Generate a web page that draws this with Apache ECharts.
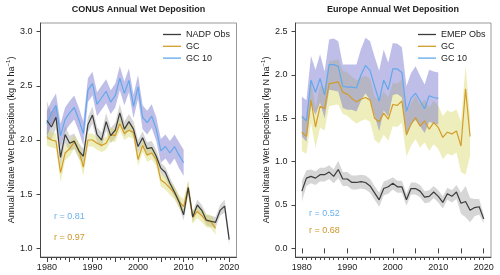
<!DOCTYPE html>
<html><head><meta charset="utf-8">
<script src="https://cdn.jsdelivr.net/npm/echarts@6/dist/echarts.min.js"></script>
<style>html,body{margin:0;padding:0;background:#fff}#c{width:500px;height:275px}</style>
</head><body><div id="c"></div>
<script>
const years = [1980,1981,1982,1983,1984,1985,1986,1987,1988,1989,1990,1991,1992,1993,1994,1995,1996,1997,1998,1999,2000,2001,2002,2003,2004,2005,2006,2007,2008,2009,2010,2011,2012,2013,2014,2015,2016,2017,2018,2019,2020];
const yearTicks5 = [1980,1985,1990,1995,2000,2005,2010,2015,2020];
const yearLabels = [1980,1990,2000,2010,2020];
const yTicksUS = [1.0,1.5,2.0,2.5,3.0];
const yTicksEU = [0.0,0.5,1.0,1.5,2.0,2.5];

// CONUS
const nadpObs = [2.18,2.12,2.21,1.84,2.05,1.97,1.99,1.90,1.85,2.14, 2.23,2.05,2.00,2.17,2.04,2.09,2.25,2.10,2.17,2.10, 1.94,2.02,1.92,1.93,1.85,1.74,1.70,1.60,1.52,1.43, 1.31,1.56,1.29,1.40,1.35,1.26,1.25,1.24,1.35,1.39, 1.08];
const nadpSpread = [0.18,0.12,0.10,0.08,0.08,0.07,0.07,0.07,0.07,0.07, 0.08,0.07,0.07,0.08,0.07,0.07,0.08,0.07,0.07,0.07, 0.06,0.06,0.06,0.06,0.06,0.05,0.05,0.05,0.05,0.05, 0.05,0.06,0.05,0.05,0.05,0.05,0.05,0.05,0.05,0.06, 0.05];
const gcUS = [2.03,2.00,1.99,1.70,1.88,1.92,1.98,1.91,1.75,2.00, 2.00,1.97,1.95,1.97,2.05,2.04,2.15,2.06,2.09,2.07, 1.82,1.95,1.86,1.88,1.82,1.63,1.60,1.555,1.51,1.43, 1.385,1.56,1.285,1.34,1.30,1.255,1.245,1.185];
const gcUSSpread = [0.08,0.07,0.07,0.09,0.07,0.07,0.06,0.07,0.08,0.06, 0.06,0.06,0.06,0.06,0.06,0.06,0.06,0.06,0.06,0.06, 0.06,0.06,0.06,0.06,0.06,0.06,0.06,0.06,0.06,0.06, 0.07,0.07,0.06,0.06,0.06,0.06,0.06,0.06];
const gc10US = [2.15,2.25,2.32,2.04,2.19,2.25,2.30,2.19,2.06,2.46, 2.52,2.33,2.39,2.45,2.35,2.41,2.57,2.43,2.55,2.31, 2.49,2.21,2.16,2.22,2.10,1.90,1.94,1.88,1.94,1.86, 1.79];
const gc10USSpread = [0.12,0.11,0.11,0.11,0.11,0.11,0.11,0.11,0.11,0.11, 0.11,0.11,0.11,0.11,0.11,0.11,0.11,0.11,0.11,0.11, 0.11,0.11,0.11,0.11,0.11,0.11,0.11,0.11,0.11,0.12, 0.12];

// Europe
const emepObs = [0.66,0.81,0.83,0.81,0.85,0.85,0.88,0.83,0.91,0.80, 0.80,0.76,0.76,0.77,0.76,0.72,0.64,0.56,0.69,0.71, 0.75,0.71,0.71,0.56,0.69,0.69,0.66,0.59,0.60,0.65, 0.60,0.53,0.63,0.60,0.65,0.52,0.54,0.44,0.47,0.48, 0.34];
const emepSpread = [0.12,0.09,0.08,0.08,0.08,0.08,0.08,0.08,0.10,0.08, 0.08,0.08,0.08,0.08,0.08,0.08,0.08,0.08,0.08,0.08, 0.07,0.07,0.07,0.07,0.07,0.07,0.07,0.07,0.07,0.07, 0.07,0.07,0.07,0.07,0.08,0.12,0.18,0.14,0.10,0.09, 0.05];
const gcEU = [1.34,1.29,1.71,1.40,1.64,1.61,1.90,1.91,1.92,1.80, 1.78,1.73,1.69,1.72,1.74,1.71,1.50,1.46,1.56,1.49, 1.66,1.65,1.70,1.31,1.43,1.51,1.41,1.47,1.375,1.45, 1.395,1.28,1.34,1.32,1.355,1.18,1.84,1.29];
const gcEUUp = [0.20,0.20,0.24,0.22,0.24,0.24,0.26,0.26,0.26,0.25, 0.25,0.25,0.25,0.25,0.25,0.25,0.25,0.25,0.25,0.25, 0.25,0.25,0.25,0.25,0.25,0.25,0.25,0.25,0.25,0.25, 0.25,0.25,0.25,0.25,0.25,0.28,0.27,0.22];
const gcEUDown = [0.22,0.20,0.26,0.24,0.25,0.25,0.26,0.26,0.26,0.25, 0.25,0.25,0.25,0.25,0.25,0.25,0.25,0.25,0.25,0.25, 0.25,0.25,0.25,0.25,0.25,0.25,0.25,0.25,0.25,0.25, 0.25,0.25,0.25,0.25,0.25,0.30,0.99,0.22];
const gc10EU = [1.52,1.47,1.94,1.80,1.96,1.77,2.12,2.12,2.10,1.87, 1.86,1.86,1.85,2.00,2.11,2.05,1.87,1.70,1.94,1.83, 2.07,2.07,2.03,1.58,1.73,1.79,1.70,1.61,1.76,1.74, 1.73];
const gc10EUSpread = [0.23,0.24,0.28,0.26,0.28,0.27,0.29,0.30,0.29,0.25, 0.26,0.26,0.27,0.30,0.32,0.34,0.34,0.35,0.35,0.31, 0.30,0.29,0.29,0.29,0.29,0.31,0.29,0.28,0.30,0.30, 0.30];

const FONT = '"Liberation Sans", Arial, Helvetica, sans-serif';
const C_OBS = '#3b3b3b', C_GC = '#D39C2A', C_GC10 = '#62A8EC';
const F_OBS = 'rgba(140,140,140,0.36)', F_GC = 'rgba(215,215,95,0.42)', F_GC10 = 'rgba(110,110,205,0.45)';

function pairs(vals){ return vals.map((v,i)=>[years[i], v]); }
function band(idx, vals, up, dn, color){
  const pts = vals.map((v,i)=>[years[i], v - dn[i], v + up[i]]);
  return {type:'custom', xAxisIndex:idx, yAxisIndex:idx, data:pts, encode:{x:0, y:[1,2]}, silent:true, z:1,
    renderItem(params, api){
      if (params.dataIndex !== 0) return null;
      const top = pts.map(p=>api.coord([p[0], p[2]]));
      const bot = pts.map(p=>api.coord([p[0], p[1]])).reverse();
      return {type:'polygon', shape:{points: top.concat(bot)}, style:{fill: color}};
    }};
}
function line(name, idx, vals, color){
  return {type:'line', name, xAxisIndex:idx, yAxisIndex:idx, data:pairs(vals), symbol:'none', showSymbol:false, z:3,
    lineStyle:{color, width:1.2}, itemStyle:{color}, animation:false};
}
function xAxes(grid){
  return [{type:'value', gridIndex:grid, min:1978.6, max:2021.6, position:'bottom',
    axisLine:{show:true, onZero:false, lineStyle:{color:'#444', width:1}},
    axisTick:{show:true, length:3, customValues:years, lineStyle:{color:'#444'}},
    axisLabel:{customValues:yearLabels, formatter:v=>String(Math.round(v)), fontSize:9, color:'#222', margin:6, fontFamily:FONT},
    splitLine:{show:false}}];
}
function xAxesMajor(grid){
  return {type:'value', gridIndex:grid, min:1978.6, max:2021.6, position:'bottom',
    axisLine:{show:false}, axisLabel:{show:false}, splitLine:{show:false},
    axisTick:{show:true, length:5, customValues:yearTicks5, lineStyle:{color:'#444'}}};
}
const yName = '{a|Annual Nitrate Wet Deposition (kg N ha}{s|−1}{a|)}';
function yAxis(grid, min, max, ticks){
  return {type:'value', gridIndex:grid, min, max,
    axisLine:{show:true, lineStyle:{color:'#444', width:1}},
    axisTick:{show:true, length:4, customValues:ticks, lineStyle:{color:'#444'}},
    axisLabel:{customValues:ticks, formatter:v=>v.toFixed(1), fontSize:9, color:'#222', margin:8, fontFamily:FONT},
    splitLine:{show:false},
    name:yName, nameLocation:'middle', nameRotate:90, nameGap:23,
    nameTextStyle:{rich:{a:{fontSize:9, color:'#222', fontFamily:FONT, lineHeight:12}, s:{fontSize:6, color:'#222', fontFamily:FONT, verticalAlign:'top', lineHeight:12}}}};
}
function legend(left, names){
  return {data:names, orient:'vertical', left, top:29.5, icon:'rect', itemWidth:18, itemHeight:1.3, itemGap:1.8,
    textStyle:{fontSize:9, color:'#222', fontFamily:FONT, lineHeight:10, padding:[0,0,0,0]}, padding:0, selectedMode:false};
}
function txt(x, y, text, color, bold){
  return {type:'text', x, y, style:{text, fill:color, font:(bold?'bold ':'')+'9px '+FONT, textAlign:'center', textVerticalAlign:'middle'}};
}
function txtL(x, y, text, color){
  return {type:'text', x, y, style:{text, fill:color, font:'9px '+FONT, textAlign:'left', textVerticalAlign:'middle'}};
}

const chart = echarts.init(document.getElementById('c'), null, {renderer:'canvas'});
chart.setOption({
  animation:false,
  backgroundColor:'#fff',
  grid:[
    {left:40.5, top:23, width:196, height:234, show:true, borderColor:'#999', borderWidth:1, backgroundColor:'transparent'},
    {left:295.5, top:23, width:195.5, height:234, show:true, borderColor:'#999', borderWidth:1, backgroundColor:'transparent'}
  ],
  xAxis:[...xAxes(0), ...xAxes(1), xAxesMajor(0), xAxesMajor(1)],
  yAxis:[yAxis(0, 0.92, 3.08, yTicksUS), yAxis(1, -0.1, 2.6, yTicksEU)],
  legend:[legend(163, ['NADP Obs','GC','GC 10']), legend(418, ['EMEP Obs','GC','GC 10'])],
  graphic:[
    txt(138.5, 10, 'CONUS Annual Wet Deposition', '#222', true),
    txt(393, 10, 'Europe Annual Wet Deposition', '#222', true),
    txtL(54, 216.7, 'r = 0.81', '#6AB2EE'),
    txtL(54, 237.7, 'r = 0.97', '#CC9628'),
    txtL(309, 213.3, 'r = 0.52', '#6AB2EE'),
    txtL(309, 231, 'r = 0.68', '#CC9628')
  ],
  series:[
    band(0, nadpObs, nadpSpread, nadpSpread, F_OBS),
    band(0, gcUS, gcUSSpread, gcUSSpread, F_GC),
    band(0, gc10US, gc10USSpread, gc10USSpread, F_GC10),
    band(1, emepObs, emepSpread, emepSpread, F_OBS),
    band(1, gcEU, gcEUUp, gcEUDown, F_GC),
    band(1, gc10EU, gc10EUSpread, gc10EUSpread, F_GC10),
    line('GC 10', 0, gc10US, C_GC10),
    line('GC', 0, gcUS, C_GC),
    line('NADP Obs', 0, nadpObs, C_OBS),
    line('GC 10', 1, gc10EU, C_GC10),
    line('GC', 1, gcEU, C_GC),
    line('EMEP Obs', 1, emepObs, C_OBS)
  ]
});
</script></body></html>
